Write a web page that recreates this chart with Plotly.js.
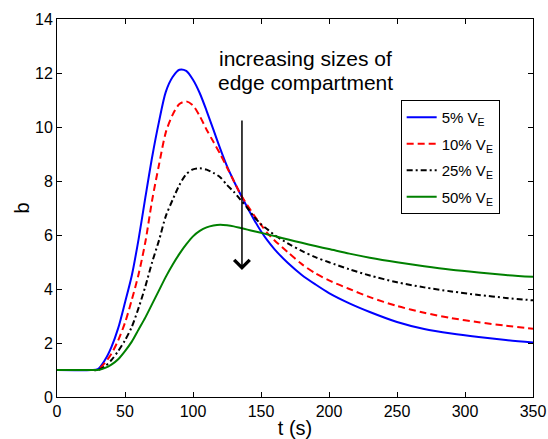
<!DOCTYPE html>
<html>
<head>
<meta charset="utf-8">
<script src="https://cdn.plot.ly/plotly-3.0.1.min.js"></script>
<style>html,body{margin:0;padding:0;background:#fff;}#chart{width:548px;height:439px;}</style>
</head>
<body>
<div id="chart"></div>
<script>
// time grid (s)
var t = [0, 25, 30, 35, 40, 45, 50, 55, 60, 65, 70, 75, 80, 85, 90, 95, 100, 105, 110, 115, 120, 125, 130, 135, 140, 145, 150, 155, 160, 170, 180, 190, 200, 215, 230, 250, 270, 290, 310, 330, 350];
// b values per edge-compartment size
var b5  = [1, 1, 1.03, 1.35, 1.85, 2.55, 3.5, 4.5, 5.85, 7.4, 8.9, 10.2, 11.3, 11.85, 12.12, 12.08, 11.75, 11.25, 10.6, 9.9, 9.2, 8.55, 8.0, 7.5, 7.02, 6.56, 6.14, 5.78, 5.47, 4.95, 4.52, 4.17, 3.85, 3.47, 3.15, 2.78, 2.52, 2.35, 2.22, 2.11, 2.02];
var b10 = [1, 1, 1.01, 1.25, 1.6, 2.1, 2.75, 3.6, 4.55, 5.75, 7.3, 8.6, 9.8, 10.45, 10.85, 10.95, 10.8, 10.4, 9.9, 9.45, 9.0, 8.5, 8.0, 7.5, 7.1, 6.72, 6.38, 6.05, 5.8, 5.35, 4.92, 4.58, 4.32, 4.0, 3.7, 3.37, 3.12, 2.92, 2.77, 2.64, 2.53];
var b25 = [1, 1, 1.0, 1.12, 1.37, 1.7, 2.1, 2.6, 3.3, 4.1, 5.0, 5.8, 6.7, 7.3, 7.85, 8.25, 8.43, 8.47, 8.42, 8.3, 8.14, 7.85, 7.6, 7.3, 7.0, 6.67, 6.4, 6.2, 6.0, 5.68, 5.41, 5.18, 4.99, 4.73, 4.5, 4.25, 4.06, 3.91, 3.78, 3.67, 3.58];
var b50 = [1, 1, 1.0, 1.07, 1.2, 1.4, 1.7, 2.05, 2.5, 2.95, 3.45, 3.95, 4.45, 4.9, 5.3, 5.65, 5.95, 6.15, 6.28, 6.35, 6.38, 6.36, 6.32, 6.26, 6.2, 6.14, 6.08, 6.02, 5.96, 5.83, 5.71, 5.59, 5.48, 5.31, 5.16, 4.99, 4.84, 4.71, 4.61, 4.52, 4.45];
var seriesNames = ['5% V<sub>E</sub>', '10% V<sub>E</sub>', '25% V<sub>E</sub>', '50% V<sub>E</sub>'];
var xTicks = [0, 50, 100, 150, 200, 250, 300, 350];
var yTicks = [0, 2, 4, 6, 8, 10, 12, 14];
var noteLines = ['increasing sizes of', 'edge compartment'];
var arrowT = 136, arrowFrom = 10.3, arrowTo = 4.7;

var colors = ['#0000ff', '#ff0000', '#000000', '#008000'];
var dashes = ['solid', '7px,4px', '6px,3px,2px,3px', 'solid'];
var ys = [b5, b10, b25, b50];
var traces = ys.map(function (y, i) {
  return {
    x: t, y: y, type: 'scatter', mode: 'lines', name: seriesNames[i],
    legendgroup: 'g' + i,
    line: {color: colors[i], width: 2, dash: dashes[i], shape: 'spline', smoothing: 0.8}
  };
});

var font = 'Liberation Sans, Arial, Helvetica, sans-serif';
var layout = {
  width: 548, height: 439,
  margin: {l: 57, r: 15, t: 19, b: 42},
  paper_bgcolor: '#fff', plot_bgcolor: '#fff',
  font: {family: font, size: 16, color: '#000'},
  showlegend: true,
  legend: {
    x: 0.722, y: 0.786, xanchor: 'left', yanchor: 'top',
    bordercolor: '#000', borderwidth: 1, bgcolor: '#fff',
    font: {family: font, size: 15, color: '#000'},
    tracegroupgap: 4
  },
  xaxis: {
    range: [0, 350], tickvals: xTicks, ticktext: xTicks.map(String),
    ticks: 'inside', ticklen: 5, tickcolor: '#000',
    showline: true, linecolor: '#000', linewidth: 1, mirror: 'ticks',
    showgrid: false, zeroline: false,
    tickfont: {size: 16},
    title: {text: 't (s)', font: {size: 20}, standoff: 4}
  },
  yaxis: {
    range: [0, 14], tickvals: yTicks, ticktext: yTicks.map(String),
    ticks: 'inside', ticklen: 5, tickcolor: '#000',
    showline: true, linecolor: '#000', linewidth: 1, mirror: 'ticks',
    showgrid: false, zeroline: false,
    tickfont: {size: 16},
    title: {text: 'b', font: {size: 20}, standoff: 0}
  },
  annotations: [
    {x: 183, y: 12.52, xref: 'x', yref: 'y', text: noteLines[0], showarrow: false,
     xanchor: 'center', yanchor: 'middle', font: {size: 21, color: '#000'}},
    {x: 183, y: 11.66, xref: 'x', yref: 'y', text: noteLines[1], showarrow: false,
     xanchor: 'center', yanchor: 'middle', font: {size: 21, color: '#000'}},
    {x: arrowT, y: arrowTo, ax: arrowT, ay: arrowFrom, xref: 'x', yref: 'y', axref: 'x', ayref: 'y',
     text: '', showarrow: true, arrowhead: 4, arrowsize: 2, arrowwidth: 1.5, arrowcolor: '#000'}
  ]
};

Plotly.newPlot('chart', traces, layout, {staticPlot: true, displayModeBar: false});
</script>
</body>
</html>
